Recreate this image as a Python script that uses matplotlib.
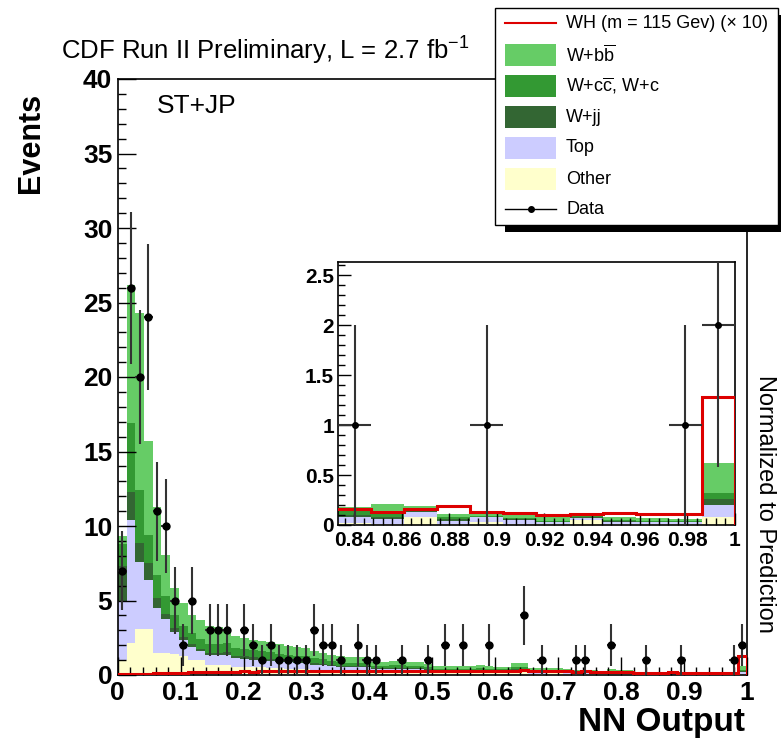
"""
CDF WH search: NN output distribution, ST+JP tag category, with inset of the high-score region.
"""

import matplotlib
matplotlib.use("Agg")
import matplotlib.pyplot as plt
from matplotlib.patches import Rectangle
from matplotlib.ticker import MultipleLocator
import numpy as np

plt.rcParams["font.family"] = ["Liberation Sans", "DejaVu Sans"]
plt.rcParams["mathtext.fontset"] = "custom"
plt.rcParams["mathtext.rm"] = "Liberation Sans"
plt.rcParams["mathtext.it"] = "Liberation Sans:italic"
plt.rcParams["mathtext.bf"] = "Liberation Sans:bold"

# ---- data: 72 bins of NN output in [0, 1] ----
n_bins = 72

data_counts = [
    7, 26, 20, 24, 11, 10, 5, 2, 5, 0, 3, 3,
    3, 0, 3, 2, 1, 2, 1, 1, 1, 1, 3, 2,
    2, 1, 0, 2, 1, 1, 0, 0, 1, 0, 0, 1,
    0, 2, 0, 2, 0, 0, 2, 0, 0, 0, 4, 0,
    1, 0, 0, 0, 1, 1, 0, 0, 2, 0, 0, 0,
    1, 0, 0, 0, 1, 0, 0, 0, 0, 0, 1, 2,
]

other = [
    1.00, 2.13, 3.10, 3.10, 1.46, 1.46, 1.40, 1.30, 1.00, 1.00, 0.70, 0.67,
    0.68, 0.57, 0.55, 0.52, 0.51, 0.48, 0.45, 0.43, 0.41, 0.40, 0.35, 0.33,
    0.30, 0.28, 0.26, 0.26, 0.26, 0.20, 0.20, 0.21, 0.21, 0.20, 0.20, 0.17,
    0.13, 0.13, 0.13, 0.13, 0.13, 0.14, 0.13, 0.13, 0.12, 0.17, 0.17, 0.10,
    0.10, 0.11, 0.11, 0.08, 0.08, 0.07, 0.07, 0.07, 0.09, 0.07, 0.07, 0.05,
    0.02, 0.01, 0.085, 0.01, 0.03, 0.01, 0.01, 0.05, 0.015, 0.01, 0.01, 0.083,
]

top = [
    4.00, 8.27, 4.50, 3.30, 3.04, 2.30, 1.50, 1.05, 0.90, 0.60, 0.65, 0.68,
    0.68, 0.57, 0.55, 0.52, 0.51, 0.48, 0.45, 0.43, 0.41, 0.40, 0.35, 0.33,
    0.30, 0.28, 0.26, 0.26, 0.26, 0.20, 0.20, 0.21, 0.21, 0.20, 0.20, 0.17,
    0.13, 0.13, 0.13, 0.13, 0.13, 0.14, 0.13, 0.13, 0.12, 0.17, 0.17, 0.10,
    0.10, 0.11, 0.11, 0.08, 0.08, 0.07, 0.07, 0.07, 0.09, 0.07, 0.07, 0.05,
    0.06, 0.05, 0.045, 0.03, 0.05, 0.04, 0.02, 0.025, 0.02, 0.02, 0.02, 0.117,
]

w_jj = [
    2.30, 1.90, 1.26, 1.10, 0.70, 0.35, 0.25, 0.20, 0.20, 0.15, 0.15, 0.15,
    0.19, 0.16, 0.15, 0.14, 0.14, 0.13, 0.12, 0.12, 0.11, 0.11, 0.10, 0.09,
    0.08, 0.07, 0.07, 0.07, 0.07, 0.05, 0.05, 0.06, 0.06, 0.05, 0.05, 0.04,
    0.04, 0.04, 0.04, 0.04, 0.04, 0.04, 0.04, 0.03, 0.03, 0.05, 0.05, 0.03,
    0.03, 0.03, 0.03, 0.02, 0.02, 0.02, 0.02, 0.02, 0.02, 0.02, 0.02, 0.01,
    0.02, 0.02, 0.01, 0.02, 0.005, 0.01, 0.005, 0.005, 0.01, 0.005, 0.005, 0.06,
]

w_cc = [
    1.50, 4.60, 3.54, 1.90, 1.50, 1.16, 0.85, 0.75, 0.70, 0.65, 0.60, 0.60,
    0.62, 0.52, 0.50, 0.47, 0.46, 0.44, 0.41, 0.39, 0.37, 0.36, 0.32, 0.30,
    0.27, 0.25, 0.24, 0.24, 0.24, 0.18, 0.18, 0.19, 0.19, 0.18, 0.18, 0.15,
    0.12, 0.12, 0.12, 0.12, 0.12, 0.13, 0.12, 0.11, 0.11, 0.16, 0.16, 0.09,
    0.09, 0.10, 0.10, 0.08, 0.07, 0.07, 0.07, 0.06, 0.08, 0.07, 0.07, 0.04,
    0.05, 0.03, 0.02, 0.02, 0.01, 0.01, 0.01, 0.01, 0.01, 0.01, 0.005, 0.057,
]

w_bb = [
    0.55, 9.30, 11.90, 6.30, 4.60, 2.80, 1.83, 1.52, 1.20, 1.30, 1.20, 1.10,
    0.93, 0.78, 0.75, 0.70, 0.68, 0.67, 0.62, 0.58, 0.55, 0.53, 0.48, 0.45,
    0.40, 0.37, 0.37, 0.37, 0.37, 0.27, 0.27, 0.28, 0.28, 0.27, 0.27, 0.22,
    0.18, 0.18, 0.18, 0.18, 0.18, 0.20, 0.18, 0.17, 0.17, 0.23, 0.23, 0.13,
    0.13, 0.15, 0.15, 0.12, 0.10, 0.10, 0.10, 0.08, 0.12, 0.11, 0.11, 0.07,
    0.03, 0.10, 0.03, 0.03, 0.02, 0.03, 0.055, 0.025, 0.025, 0.03, 0.017, 0.30,
]

wh_x10 = [
    0.05, 0.07, 0.09, 0.10, 0.12, 0.14, 0.15, 0.16, 0.17, 0.18, 0.20, 0.20,
    0.22, 0.22, 0.25, 0.22, 0.27, 0.25, 0.25, 0.27, 0.25, 0.28, 0.25, 0.27,
    0.25, 0.28, 0.30, 0.27, 0.25, 0.28, 0.30, 0.27, 0.30, 0.28, 0.30, 0.27,
    0.28, 0.30, 0.25, 0.28, 0.27, 0.30, 0.28, 0.30, 0.30, 0.28, 0.34, 0.30,
    0.28, 0.25, 0.27, 0.25, 0.22, 0.25, 0.22, 0.20, 0.20, 0.18, 0.20, 0.16,
    0.165, 0.135, 0.16, 0.195, 0.135, 0.12, 0.105, 0.115, 0.118, 0.108, 0.115, 1.28,
]

stack_names = ["Other", "Top", "W+jj", r"W+c$\overline{\mathrm{c}}$, W+c", r"W+b$\overline{\mathrm{b}}$"]
stack_colors = ["#ffffcc", "#ccccff", "#336633", "#339933", "#66cc66"]
signal_color = "#dd0000"

main_xticks = [0, 0.1, 0.2, 0.3, 0.4, 0.5, 0.6, 0.7, 0.8, 0.9, 1.0]
main_xlabels = ["0", "0.1", "0.2", "0.3", "0.4", "0.5", "0.6", "0.7", "0.8", "0.9", "1"]
main_yticks = [0, 5, 10, 15, 20, 25, 30, 35, 40]
inset_xticks = [0.84, 0.86, 0.88, 0.90, 0.92, 0.94, 0.96, 0.98, 1.0]
inset_xlabels = ["0.84", "0.86", "0.88", "0.9", "0.92", "0.94", "0.96", "0.98", "1"]
inset_yticks = [0, 0.5, 1, 1.5, 2, 2.5]
inset_ylabels = ["0", "0.5", "1", "1.5", "2", "2.5"]

edges = np.linspace(0.0, 1.0, n_bins + 1)
centers = 0.5 * (edges[:-1] + edges[1:])
half_w = 0.5 * (edges[1] - edges[0])
counts = np.array(data_counts, dtype=float)
has_data = counts > 0


def draw_hists(ax, ms, elw):
    base = np.zeros(n_bins)
    for comp, col in zip([other, top, w_jj, w_cc, w_bb], stack_colors):
        upper = base + np.array(comp)
        ax.stairs(upper, edges, baseline=base, fill=True, color=col, linewidth=0)
        base = upper
    ax.stairs(wh_x10, edges, color=signal_color, linewidth=2.2, zorder=3)
    ax.errorbar(centers[has_data], counts[has_data],
                xerr=half_w, yerr=np.sqrt(counts[has_data]),
                fmt="o", color="black", ms=ms, ecolor="#333333",
                elinewidth=elw, capsize=0, zorder=4)


W, H = 781, 749
fig = plt.figure(figsize=(W / 100, H / 100), dpi=100)

# main panel
ax = fig.add_axes([117.8 / W, (H - 675) / H, 629 / W, 596 / H])
draw_hists(ax, 5, 1.5)
ax.set_xlim(0, 1)
ax.set_ylim(0, 40)
ax.set_xticks(main_xticks)
ax.set_xticklabels(main_xlabels, fontsize=19, fontweight="bold")
ax.set_yticks(main_yticks)
ax.set_yticklabels([str(v) for v in main_yticks], fontsize=19, fontweight="bold")
ax.xaxis.set_minor_locator(MultipleLocator(0.02))
ax.yaxis.set_minor_locator(MultipleLocator(1))
ax.tick_params(which="both", direction="in", top=False, right=False, width=1)
ax.tick_params(which="major", length=13)
ax.tick_params(which="minor", length=6)
ax.tick_params(axis="x", pad=4)
ax.tick_params(axis="y", pad=4)
for sp in ax.spines.values():
    sp.set_linewidth(1.2)

# inset: high NN-output region
axi = fig.add_axes([338.3 / W, (H - 525) / H, 396.4 / W, 263.3 / H])
draw_hists(axi, 4, 1.5)
axi.set_xlim(1 - 12 / n_bins, 1)
axi.set_ylim(0, 2.637)
axi.set_xticks(inset_xticks)
axi.set_xticklabels(inset_xlabels, fontsize=15, fontweight="bold")
axi.set_yticks(inset_yticks)
axi.set_yticklabels(inset_ylabels, fontsize=15, fontweight="bold")
axi.xaxis.set_minor_locator(MultipleLocator(0.004))
axi.yaxis.set_minor_locator(MultipleLocator(0.1))
axi.tick_params(which="both", direction="in", top=False, right=False, width=1)
axi.tick_params(which="major", length=9)
axi.tick_params(which="minor", length=5)
axi.tick_params(axis="x", pad=4)
axi.tick_params(axis="y", pad=3)
for sp in axi.spines.values():
    sp.set_linewidth(1.2)

# labels
fig.text(61 / W, 1 - 59.5 / H, r"CDF Run II Preliminary, L = 2.7 fb$^{-1}$",
         fontsize=18.5, ha="left", va="baseline")
fig.text(157 / W, 1 - 113 / H, "ST+JP", fontsize=19, ha="left", va="baseline")
fig.text(31 / W, 1 - 143 / H, "Events", fontsize=22, fontweight="bold",
         rotation=90, ha="center", va="center")
fig.text(745 / W, 1 - 722 / H, "NN Output", fontsize=24, fontweight="bold",
         ha="right", va="center")
fig.text(765 / W, 1 - 504 / H, "Normalized to Prediction", fontsize=17,
         rotation=270, ha="center", va="center")

# legend, drawn in pixel coordinates on an overlay
ov = fig.add_axes([0, 0, 1, 1])
ov.set_xlim(0, W)
ov.set_ylim(H, 0)
ov.axis("off")
ov.add_patch(Rectangle((505, 15), 283, 217, facecolor="black", edgecolor="none", clip_on=False))
ov.add_patch(Rectangle((495, 8), 283, 217, facecolor="white", edgecolor="black", linewidth=1))

entry_y = [23, 55, 86, 117, 148, 179, 209]
ov.plot([505, 556], [entry_y[0], entry_y[0]], color=signal_color, lw=1.5)
ov.text(566, entry_y[0], "WH (m = 115 Gev) (\u00d7 10)", fontsize=13, va="center")
for yy, name, col in zip(entry_y[1:6], stack_names[::-1], stack_colors[::-1]):
    ov.add_patch(Rectangle((505, yy - 11), 51, 22, facecolor=col, edgecolor="none"))
    ov.text(566, yy, name, fontsize=13, va="center")
ov.plot([505, 556], [entry_y[6], entry_y[6]], color="black", lw=1)
ov.plot([530.5], [entry_y[6]], "o", color="black", ms=4)
ov.text(566, entry_y[6], "Data", fontsize=13, va="center")

fig.savefig("out.png", dpi=100)
